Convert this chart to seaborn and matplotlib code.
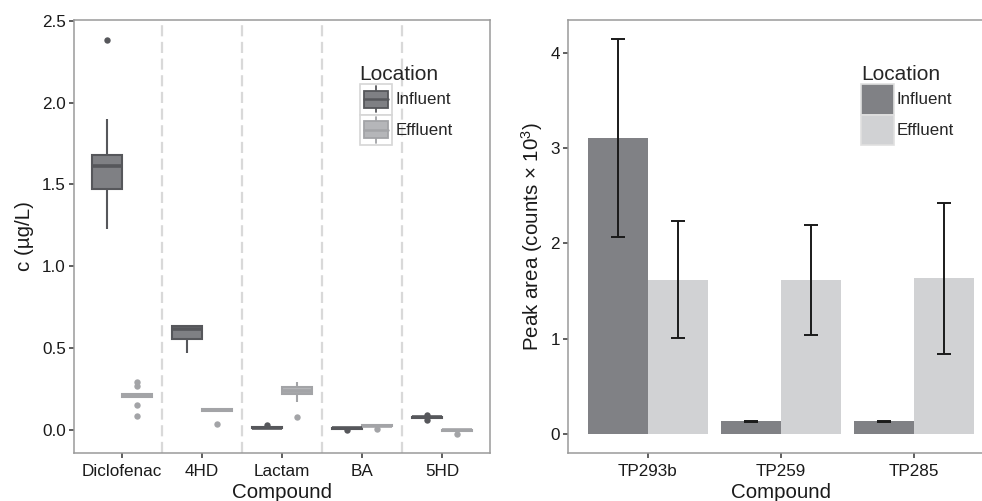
import numpy as np
import pandas as pd
import matplotlib
matplotlib.use("Agg")
import matplotlib.pyplot as plt
import seaborn as sns
from matplotlib.patches import Rectangle, Patch
from matplotlib.lines import Line2D
from matplotlib.legend_handler import HandlerBase
from matplotlib.container import BarContainer

# ---------------- data ----------------
compounds_left = ["Diclofenac", "4HD", "Lactam", "BA", "5HD"]
locations = ["Influent", "Effluent"]

# concentration samples (µg/L) per compound and location
diclofenac_influent = [1.23, 1.40, 1.47, 1.55, 1.61, 1.64, 1.68, 1.90, 2.38]
diclofenac_effluent = [0.085, 0.15, 0.20, 0.205, 0.21, 0.215, 0.22, 0.27, 0.29]
hd4_influent = [0.47, 0.553, 0.614, 0.634, 0.634]
hd4_effluent = [0.036, 0.115, 0.122, 0.13, 0.13]
lactam_influent = [0.006, 0.008, 0.012, 0.016, 0.03]
lactam_effluent = [0.081, 0.167, 0.217, 0.225, 0.238, 0.25, 0.264, 0.28, 0.295]
ba_influent = [-0.001, 0.006, 0.008, 0.01, 0.011]
ba_effluent = [0.006, 0.023, 0.026, 0.029, 0.03]
hd5_influent = [0.058, 0.075, 0.078, 0.081, 0.092]
hd5_effluent = [-0.024, -0.007, -0.004, -0.001, 0.0]

tp_compounds = ["TP293b", "TP259", "TP285"]
peak_influent = [3.11, 0.13, 0.13]
peak_effluent = [1.62, 1.615, 1.635]
err_influent = [1.045, 0.004, 0.004]
err_effluent = [0.615, 0.58, 0.795]

# ---------------- style ----------------
sns.set_theme(style="white")
plt.rcParams["font.family"] = ["Liberation Sans", "DejaVu Sans"]
plt.rcParams["mathtext.fontset"] = "custom"
plt.rcParams["mathtext.rm"] = "Liberation Sans"
plt.rcParams["mathtext.it"] = "Liberation Sans:italic"
plt.rcParams["mathtext.bf"] = "Liberation Sans:bold"

INF_FILL, INF_EDGE = "#7f8084", "#56575b"
EFF_FILL, EFF_EDGE = "#b5b6b9", "#a3a4a7"
BAR_INF, BAR_EFF = "#808185", "#d1d2d4"
SPINE = "#9a9a9a"
TXT = "#1a1a1a"

fig = plt.figure(figsize=(9.82, 5.01), dpi=100)
ax1 = fig.add_axes([0.0749, 0.0964, 0.4241, 0.8637])
ax2 = fig.add_axes([0.5781, 0.0964, 0.4341, 0.8637])

# ---------------- left: boxplot ----------------
groups = [
    ("Diclofenac", diclofenac_influent, diclofenac_effluent),
    ("4HD", hd4_influent, hd4_effluent),
    ("Lactam", lactam_influent, lactam_effluent),
    ("BA", ba_influent, ba_effluent),
    ("5HD", hd5_influent, hd5_effluent),
]
rows = []
for comp, inf, eff in groups:
    rows += [(comp, "Influent", v) for v in inf]
    rows += [(comp, "Effluent", v) for v in eff]
df1 = pd.DataFrame(rows, columns=["Compound", "Location", "c"])

for xv in [0.5, 1.5, 2.5, 3.5]:
    ax1.axvline(xv, color="#d9d9d9", lw=1.6, ls=(0, (5, 2.5)), zorder=0)

sns.boxplot(data=df1, x="Compound", y="c", hue="Location",
            order=compounds_left, hue_order=locations,
            palette=[INF_FILL, EFF_FILL], saturation=1,
            width=0.75, gap=0, showcaps=False, linewidth=1.5,
            flierprops=dict(marker="o", markersize=4.6, markeredgewidth=0),
            medianprops=dict(linewidth=2.6),
            legend=False, ax=ax1)

edge_cols = [INF_EDGE, EFF_EDGE]
for i, cont in enumerate(list(ax1.containers)):
    ec = edge_cols[i % 2]
    for b in getattr(cont, "boxes", []):
        b.set_edgecolor(ec)
    for attr in ["medians", "whiskers"]:
        for ln in getattr(cont, attr, []):
            ln.set_color(ec)
    for ln in getattr(cont, "fliers", []):
        ln.set_markerfacecolor(ec)
        ln.set_markeredgecolor(ec)

ax1.set_xlim(-0.6, 4.6)
ax1.set_ylim(-0.14, 2.505)
ax1.set_yticks([0, 0.5, 1.0, 1.5, 2.0, 2.5])
ax1.set_yticklabels(["0.0", "0.5", "1.0", "1.5", "2.0", "2.5"])
ax1.set_xlabel("Compound", fontsize=14.8, color=TXT, labelpad=3)
ax1.set_ylabel("c (µg/L)", fontsize=14.8, color=TXT, labelpad=6)


class BoxHandler(HandlerBase):
    def create_artists(self, legend, orig_handle, xdescent, ydescent,
                       width, height, fontsize, trans):
        fc = orig_handle.get_facecolor()
        ec = orig_handle.get_edgecolor()
        x0, y0 = -xdescent, -ydescent
        bg = Rectangle((x0, y0), width, height, facecolor="white",
                       edgecolor="#d6d6d6", lw=1.2, transform=trans)
        wl = Line2D([x0 + width / 2] * 2, [y0 + height * 0.08, y0 + height * 0.92],
                    color=ec, lw=1.3, transform=trans)
        box = Rectangle((x0 + width * 0.12, y0 + height * 0.22), width * 0.76,
                        height * 0.56, facecolor=fc, edgecolor=ec, lw=1.3,
                        transform=trans)
        med = Line2D([x0 + width * 0.12, x0 + width * 0.88], [y0 + height / 2] * 2,
                     color=ec, lw=1.8, transform=trans)
        return [bg, wl, box, med]


class RectHandler(HandlerBase):
    def create_artists(self, legend, orig_handle, xdescent, ydescent,
                       width, height, fontsize, trans):
        fc = orig_handle.get_facecolor()
        x0, y0 = -xdescent, -ydescent
        r = Rectangle((x0, y0), width, height, facecolor=fc,
                      edgecolor="#e0e0e0", lw=1.2, transform=trans)
        return [r]


leg_kw = dict(title="Location", loc="upper left", frameon=False, borderpad=0,
              borderaxespad=0, handlelength=1.9, handleheight=2.4,
              labelspacing=0, handletextpad=0.2, fontsize=12.2,
              title_fontsize=15, alignment="left")

box_handles = [Patch(facecolor=INF_FILL, edgecolor=INF_EDGE),
               Patch(facecolor=EFF_FILL, edgecolor=EFF_EDGE)]
leg1 = ax1.legend(box_handles, locations, handler_map={Patch: BoxHandler()},
                  bbox_to_anchor=(0.687, 0.896), **leg_kw)

# ---------------- right: barplot ----------------
df2 = pd.DataFrame({
    "Compound": tp_compounds * 2,
    "Location": ["Influent"] * 3 + ["Effluent"] * 3,
    "area": peak_influent + peak_effluent,
})
sns.barplot(data=df2, x="Compound", y="area", hue="Location",
            order=tp_compounds, hue_order=locations,
            palette=[BAR_INF, BAR_EFF], saturation=1,
            width=0.9, gap=0, errorbar=None, linewidth=0,
            legend=False, ax=ax2)

errs = [err_influent, err_effluent]
bar_conts = [c for c in ax2.containers if isinstance(c, BarContainer)]
for i, cont in enumerate(bar_conts):
    for bar in cont.patches:
        xc = bar.get_x() + bar.get_width() / 2
        j = int(round(xc))
        ax2.errorbar(xc, bar.get_height(), yerr=errs[i][j], fmt="none",
                     ecolor="#1a1a1a", elinewidth=1.4, capsize=4.8,
                     capthick=1.4, zorder=5)

ax2.set_xlim(-0.6, 2.6)
ax2.set_ylim(-0.2, 4.35)
ax2.set_yticks([0, 1, 2, 3, 4])
ax2.set_xlabel("Compound", fontsize=14.8, color=TXT, labelpad=3)
ax2.set_ylabel("Peak area (counts × 10$^3$)", fontsize=14.8, color=TXT, labelpad=4)

bar_handles = [Patch(facecolor=BAR_INF), Patch(facecolor=BAR_EFF)]
leg2 = ax2.legend(bar_handles, locations, handler_map={Patch: RectHandler()},
                  bbox_to_anchor=(0.689, 0.896), **leg_kw)

for ax in (ax1, ax2):
    for sp in ax.spines.values():
        sp.set_visible(True)
        sp.set_color(SPINE)
        sp.set_linewidth(1.1)
    ax.tick_params(axis="both", direction="out", length=3.5, width=1.1,
                   color="#333333", labelcolor=TXT, labelsize=12.3, pad=2,
                   bottom=True, left=True)
    ax.tick_params(axis="x", pad=4.5)
    ax.grid(False)
    ax.set_facecolor("white")

fig.savefig("out.png", dpi=100, facecolor="white")
